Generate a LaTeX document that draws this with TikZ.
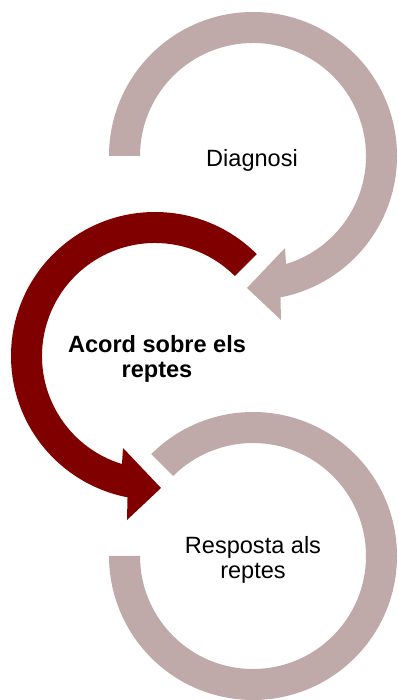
\documentclass[tikz,border=0pt]{standalone}
\usepackage{fontspec}
\setmainfont{Liberation Sans}
\definecolor{ringgrey}{RGB}{191,169,169}
\definecolor{ringred}{RGB}{128,0,0}

\begin{document}
\begin{tikzpicture}[x=.02cm,y=.02cm]
      \useasboundingbox (0,0) rectangle (398,700);

      \coordinate (c1) at (253,544);
      \coordinate (c2) at (155,344);
      \coordinate (c3) at (253,144);

      % top ring, arrow into the red one
      \begin{scope}[shift={(c1)}]
        \fill[ringgrey] (180:144) arc[start angle=180, end angle=-79, radius=144]
          -- (28,-164) -- (-6,-132) -- (32,-92)
          -- (-73:113) arc[start angle=-73, end angle=180, radius=113] -- cycle;
      \end{scope}

      % middle ring
      \begin{scope}[shift={(c2)}]
        \fill[ringred] (45:144) arc[start angle=45, end angle=259, radius=144]
          -- (-28,-164) -- (6,-132) -- (-32,-92)
          -- (253:113) arc[start angle=253, end angle=45, radius=113] -- cycle;
      \end{scope}

      % bottom ring
      \begin{scope}[shift={(c3)}]
        \fill[ringgrey] (135:144) arc[start angle=135, end angle=-180, radius=144]
          -- (-180:113) arc[start angle=-180, end angle=135, radius=113] -- cycle;
      \end{scope}

      \begin{scope}[every node/.style={align=center, font=\fontsize{13.4}{13.8}\selectfont}]
        \node (diag) at (252,540) {Diagnosi};
        \node[font=\fontsize{13.4}{13.8}\selectfont\bfseries] (acord) at (157,341) {Acord sobre els\\reptes};
        \node (resp) at (253,140) {Resposta als\\reptes};
      \end{scope}

\end{tikzpicture}
\end{document}
